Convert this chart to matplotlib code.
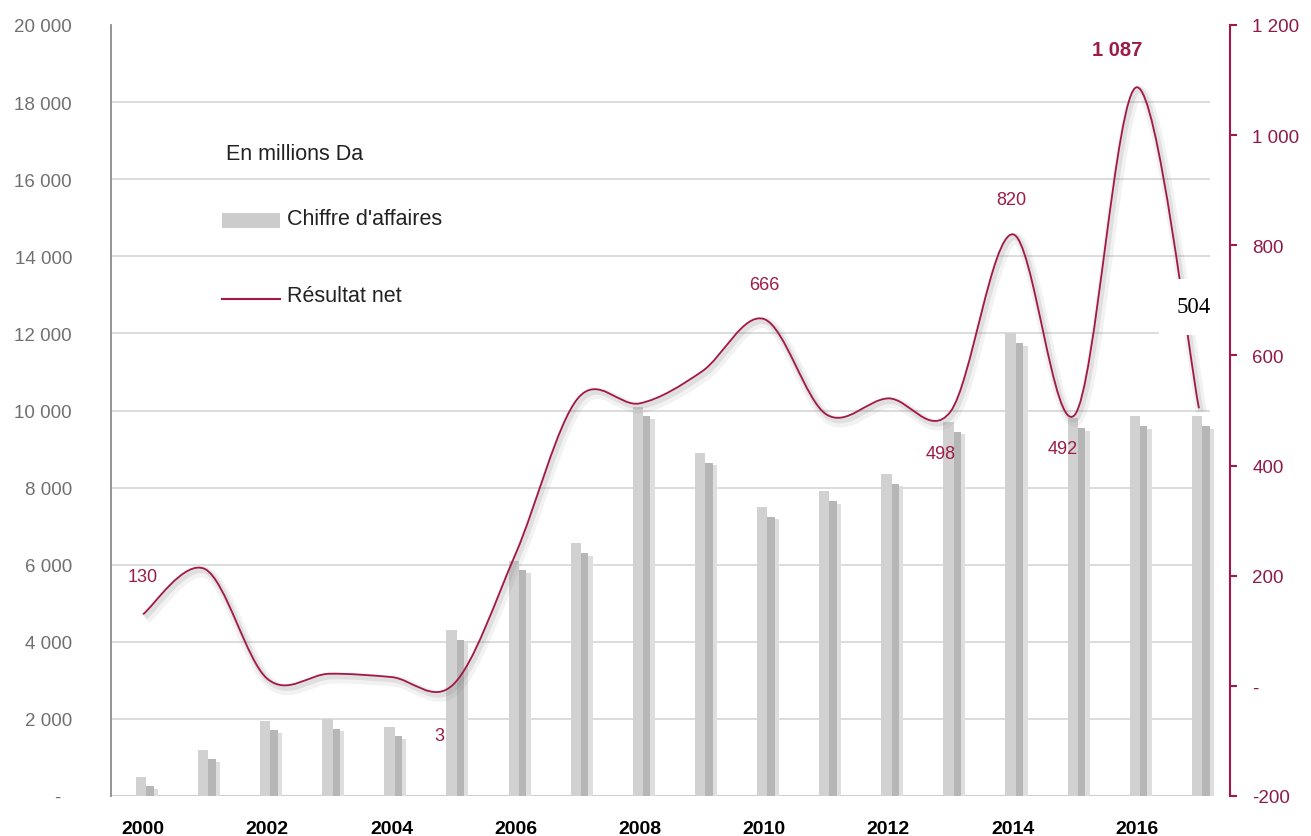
import numpy as np
import matplotlib.pyplot as plt
from matplotlib.path import Path
from matplotlib.patches import PathPatch, Rectangle
from matplotlib.lines import Line2D
from matplotlib.ticker import FuncFormatter, FixedLocator
import matplotlib.patheffects as pe

plt.rcParams['font.family'] = ['Liberation Sans', 'DejaVu Sans']

years = list(range(2000, 2018))
# chiffre d'affaires, en millions Da
ca = [500, 1200, 1950, 2000, 1800, 4300, 6100, 6550, 10100, 8900,
      7500, 7900, 8350, 9700, 12000, 9800, 9850, 9850]
# résultat net, en millions Da
rn = [130, 212, 13, 22, 16, 3, 240, 522, 513, 571,
      666, 493, 522, 498, 820, 492, 1087, 504]
# années étiquetées et décalage (points) des étiquettes
lab_years = [2000, 2005, 2010, 2013, 2014, 2015, 2016]
lab_dx = [0, -10, 0, -7, -1, -9, -14]
lab_dy = [27, -37, 25, -30, 25, -24, 27]

RED = '#a3174a'
LAB = '#9b1c48'
TICK_RED = '#8e1a4a'
GRID = '#d9d9d9'


def fmt(v):
    if v == 0:
        return '-'
    return f"{v:,.0f}".replace(',', ' ')


def smooth_path(xs, ys):
    # courbe lissée type tableur : béziers cubiques (Catmull-Rom)
    p = np.column_stack([xs, ys]).astype(float)
    ext = np.vstack([p[0], p, p[-1]])
    verts = [p[0]]
    codes = [Path.MOVETO]
    for i in range(len(p) - 1):
        c1 = ext[i + 1] + (ext[i + 2] - ext[i]) / 6.0
        c2 = ext[i + 2] - (ext[i + 3] - ext[i + 1]) / 6.0
        verts += [c1, c2, p[i + 1]]
        codes += [Path.CURVE4] * 3
    return Path(verts, codes)


fig = plt.figure(figsize=(13.11, 8.37), dpi=100)
ax = fig.add_axes([111 / 1311, 1 - 797 / 837, (1230 - 111) / 1311, (797 - 26) / 837])
ax2 = ax.twinx()

x = np.array(years)
xmax_grid = 2017.18

# grille et barres (avec ombre portée à droite)
ax.hlines(np.arange(2000, 20000, 2000), 1999.3, xmax_grid, color=GRID, lw=1.3, zorder=0)
ax.hlines(0, 1999.3, xmax_grid, color='#cfcfcf', lw=1.5, zorder=0)
ca_arr = np.array(ca)
ax.bar(x + 0.16, ca_arr - 260, bottom=-60, width=0.08, color='#dedede', zorder=1,
       align='edge')
ax.bar(x + 0.05, ca_arr - 210, bottom=-40, width=0.12, color='#b6b6b6', zorder=2,
       align='edge')
ax.bar(x - 0.115, ca_arr, width=0.167, color='#d2d1d2', zorder=3, align='edge')

ax.set_xlim(1999.485, 2017.5)
ax.set_ylim(0, 20000)
ax2.set_ylim(-200, 1200)

for s in ['top', 'right']:
    ax.spines[s].set_visible(False)
ax.spines['bottom'].set_visible(False)
ax.spines['left'].set_color('#8c8c8c')
ax.spines['left'].set_linewidth(1.3)
for s in ['top', 'left', 'bottom']:
    ax2.spines[s].set_visible(False)
ax2.spines['right'].set_color(RED)
ax2.spines['right'].set_linewidth(1.5)

ax.yaxis.set_major_locator(FixedLocator(np.arange(0, 20001, 2000)))
ax.yaxis.set_major_formatter(FuncFormatter(lambda v, p: '-  ' if v == 0 else fmt(v)))
ax.tick_params(axis='y', length=0, pad=28, labelsize=13.5, labelcolor='#707070')
ax.set_xticks(years[::2])
ax.set_xticklabels([str(y) for y in years[::2]], fontweight='bold')
ax.tick_params(axis='x', length=0, pad=17, labelsize=14, labelcolor='#000000')

ax2.yaxis.set_major_locator(FixedLocator(np.arange(-200, 1201, 200)))
ax2.yaxis.set_major_formatter(FuncFormatter(lambda v, p: fmt(v)))
ax2.tick_params(axis='y', length=5, width=1.5, color=RED, pad=11,
                labelsize=13.5, labelcolor=TICK_RED)

# courbe du résultat net
path = smooth_path(x, rn)
curve = PathPatch(path, facecolor='none', edgecolor=RED, lw=1.3, zorder=4,
                  path_effects=[pe.SimpleLineShadow(offset=(2, -3), shadow_color='#808080',
                                                    alpha=0.10, linewidth=8),
                                pe.SimpleLineShadow(offset=(1.5, -2), shadow_color='#808080',
                                                    alpha=0.16, linewidth=4),
                                pe.Normal()])
ax2.add_patch(curve)

for yr, dx, dy in zip(lab_years, lab_dx, lab_dy):
    v = rn[years.index(yr)]
    bold = v == max(rn)
    ax2.annotate(fmt(v), xy=(yr, v), xytext=(dx, dy), textcoords='offset points',
                 ha='center', va='center', fontsize=14.5 if bold else 13,
                 fontweight='bold' if bold else 'normal', color=LAB, zorder=6)

ax2.annotate(fmt(rn[-1]), xy=(years[-1], rn[-1]), xytext=(-4, 73),
             textcoords='offset points', ha='center', va='center',
             fontsize=16.5, family='Liberation Serif', color='black', zorder=7,
             bbox=dict(boxstyle='square,pad=0.75', fc='white', ec='none'))

# légende
def fx(px):
    return px / 1311


def fy(py):
    return 1 - py / 837


fig.text(fx(226), fy(155), 'En millions Da', fontsize=15.5, color='#222222', va='center')
fig.add_artist(Rectangle((fx(222), fy(229)), fx(58), 15 / 837, transform=fig.transFigure,
                         facecolor='#cccccc', edgecolor='none'))
fig.text(fx(287), fy(220), "Chiffre d'affaires", fontsize=15.5, color='#222222', va='center')
fig.add_artist(Line2D([fx(222), fx(280)], [fy(300), fy(300)], transform=fig.transFigure,
                      color=RED, lw=1.5))
fig.text(fx(287), fy(297), 'Résultat net', fontsize=15.5, color='#222222', va='center')

fig.savefig('out.png', dpi=100, facecolor='white')
